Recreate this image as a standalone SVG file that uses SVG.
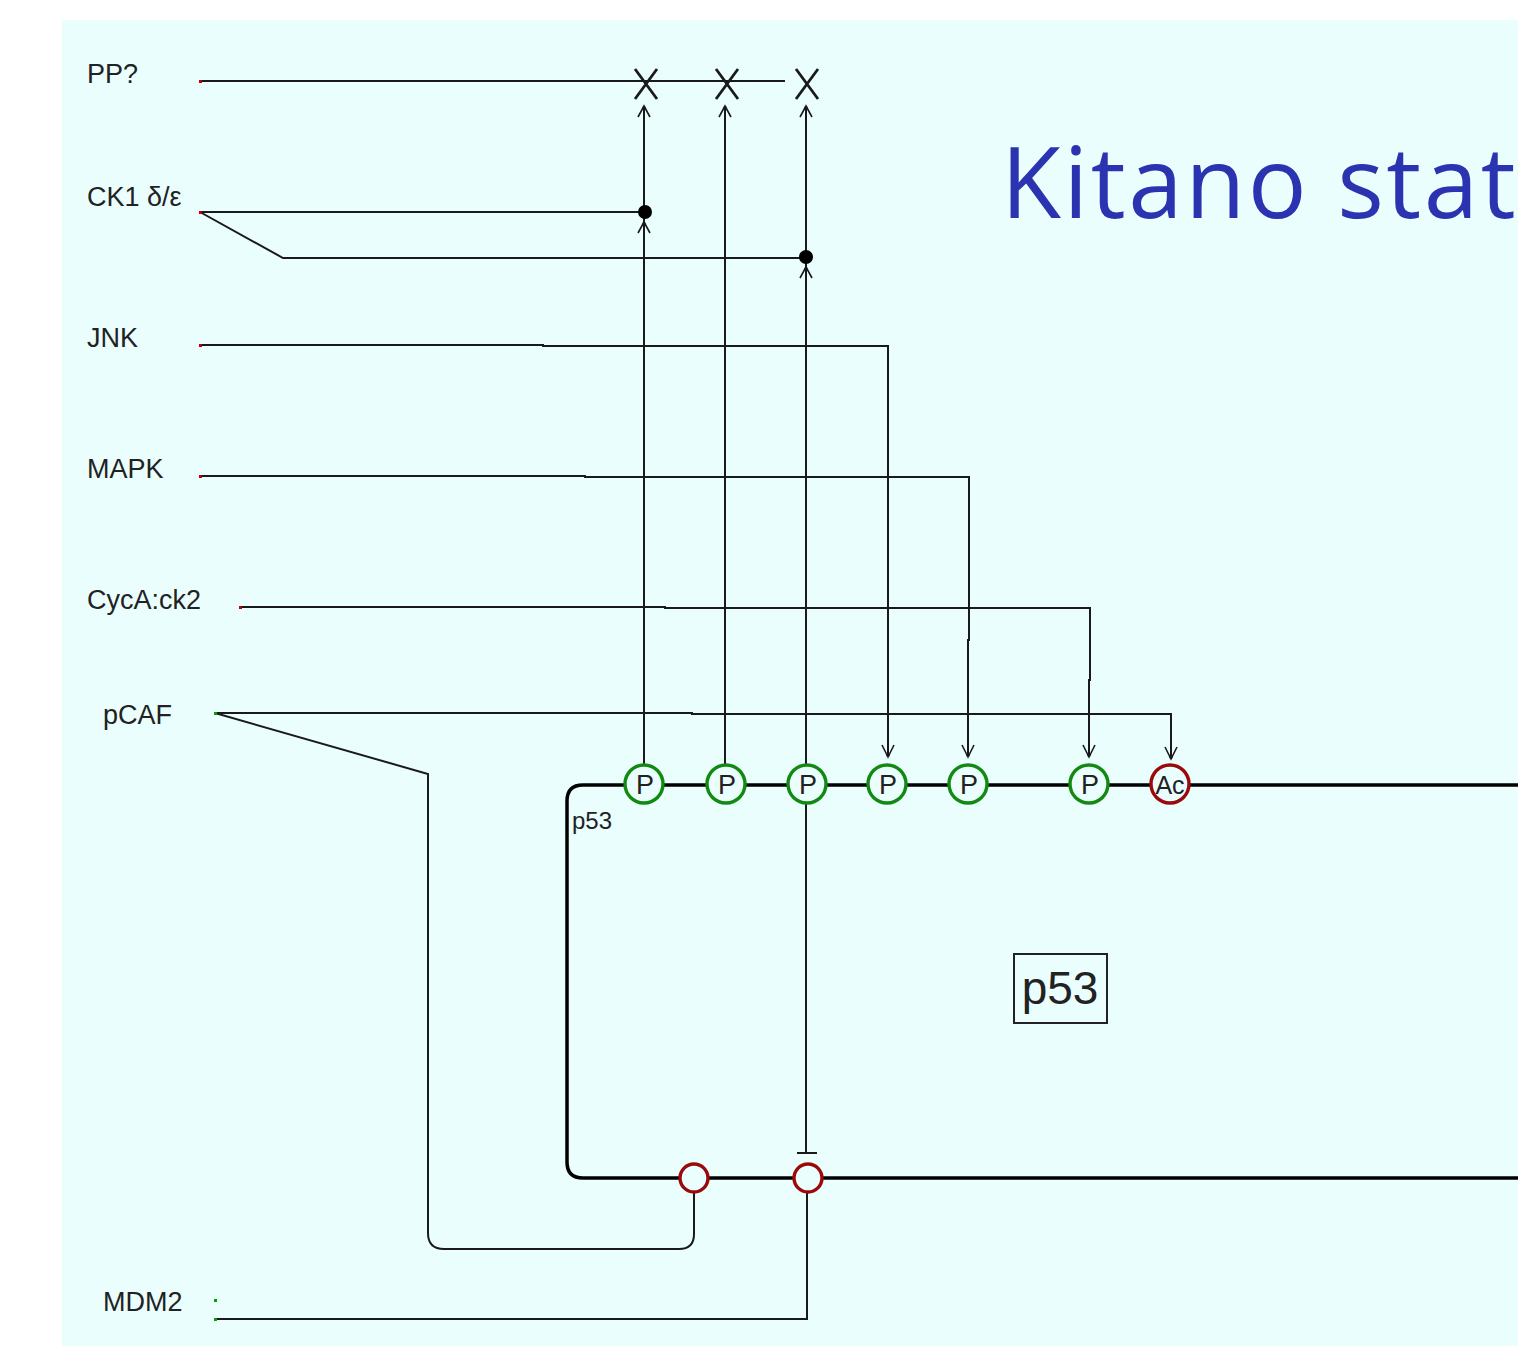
<svg xmlns="http://www.w3.org/2000/svg" xmlns:xlink="http://www.w3.org/1999/xlink" width="1518" height="1348" viewBox="0 0 1518 1348">
<style>
.lbl{font-family:"Liberation Sans",Arial,sans-serif;font-size:27px;fill:#222}
.ln{fill:none;stroke:#1a1a1a;stroke-width:2}
.ah{fill:none;stroke:#1a1a1a;stroke-width:1.6}
.xm{stroke:#1a1a1a;stroke-width:2.8;fill:none}
.pg{fill:#eafefe;stroke:#128a12;stroke-width:3.4}
.pr{fill:#eafefe;stroke:#9a0a0a;stroke-width:3.4}
.ct{font-family:"Liberation Sans",Arial,sans-serif;font-size:27px;fill:#222;text-anchor:middle}
.dr{fill:#c00000}
.dg{fill:#00a000}
</style>
<defs>
<g id="ahUp"><path class="ah" d="M-6,11 L0,0 L6,11 M0,0 V12"/><circle cx="0" cy="2" r="1.8" fill="#1a1a1a"/></g>
<g id="ahDn"><path class="ah" d="M-6,-12 L0,0 L6,-12 M0,0 V-12"/><circle cx="0" cy="-2" r="1.8" fill="#1a1a1a"/></g>
<path id="xmark" class="xm" d="M-11,-15 L11,15 M11,-15 L-11,15"/>
</defs>
<rect x="0" y="0" width="1518" height="1348" fill="#ffffff"/>
<rect x="62" y="20" width="1456" height="1326" fill="#eafefe"/>

<text x="1001" y="218" font-family="'Open Sans',sans-serif" font-size="98" letter-spacing="2.5" fill="#2b33b0">Kitano stat</text>

<g id="p53-complex">
<path d="M1520,785 H583 Q567,785 567,801 V1162 Q567,1178 583,1178 H1520" fill="none" stroke="#000" stroke-width="3.5"/>
<text x="572" y="829" class="lbl" style="font-size:24px">p53</text>
<rect x="1014" y="954" width="93" height="69" fill="none" stroke="#222" stroke-width="2"/>
<text x="1060" y="1004" class="lbl" style="font-size:46px" text-anchor="middle">p53</text>
</g>

<g id="connectors">
<polyline class="ln" points="200,81 785,81"/>
<polyline class="ln" points="200,212 645,212"/>
<polyline class="ln" points="200,212 283,258 806,258"/>
<line class="ln" x1="644" y1="106" x2="644" y2="765"/>
<line class="ln" x1="725" y1="106" x2="725" y2="765"/>
<line class="ln" x1="806" y1="106" x2="806" y2="1153"/>
<polyline class="ln" points="200,345 543,345 543,346 888,346 888,756"/>
<polyline class="ln" points="200,476 585,476 585,477 969,477 969,640 968,640 968,756"/>
<polyline class="ln" points="240,607 665,607 665,608 1090,608 1090,680 1089,680 1089,756"/>
<polyline class="ln" points="215,713 692,713 692,714 1171,714 1171,758"/>
<path class="ln" d="M215,713 L428,774 V1233 Q428,1249 444,1249 H679 Q694,1249 694,1234 V1193"/>
<polyline class="ln" points="215,1319 807,1319 807,1193"/>
<line x1="797" y1="1153" x2="817" y2="1153" stroke="#1a1a1a" stroke-width="2"/>
<circle cx="645" cy="212" r="7" fill="#000"/>
<circle cx="806" cy="257" r="7" fill="#000"/>
<use xlink:href="#ahUp" x="644" y="106"/>
<use xlink:href="#ahUp" x="725" y="106"/>
<use xlink:href="#ahUp" x="806" y="106"/>
<use xlink:href="#ahUp" x="644" y="222"/>
<use xlink:href="#ahUp" x="806" y="267"/>
<use xlink:href="#ahDn" x="888" y="757"/>
<use xlink:href="#ahDn" x="968" y="757"/>
<use xlink:href="#ahDn" x="1089" y="757"/>
<use xlink:href="#ahDn" x="1171" y="759"/>
<use xlink:href="#xmark" x="646" y="84"/>
<use xlink:href="#xmark" x="727" y="84"/>
<use xlink:href="#xmark" x="807" y="84"/>
<rect class="dr" x="199" y="80" width="3" height="3"/>
<rect class="dr" x="199" y="211" width="3" height="3"/>
<rect class="dr" x="199" y="344" width="3" height="3"/>
<rect class="dr" x="199" y="475" width="3" height="3"/>
<rect class="dr" x="239" y="606" width="3" height="3"/>
<rect class="dg" x="214" y="712" width="3" height="3"/>
<rect class="dg" x="214" y="1299" width="3" height="3"/>
<rect class="dg" x="214" y="1318" width="3" height="3"/>
</g>

<g id="node-PP"><text x="87" y="83" class="lbl">PP?</text></g>
<g id="node-CK1"><text x="87" y="206" class="lbl">CK1 δ/ε</text></g>
<g id="node-JNK"><text x="87" y="347" class="lbl">JNK</text></g>
<g id="node-MAPK"><text x="87" y="478" class="lbl">MAPK</text></g>
<g id="node-CycA"><text x="87" y="609" class="lbl">CycA:ck2</text></g>
<g id="node-pCAF"><text x="103" y="724" class="lbl">pCAF</text></g>
<g id="node-MDM2"><text x="103" y="1311" class="lbl">MDM2</text></g>

<g id="site-P1"><circle class="pg" cx="644" cy="784" r="19"/><text class="ct" x="645" y="794">P</text></g>
<g id="site-P2"><circle class="pg" cx="726" cy="784" r="19"/><text class="ct" x="727" y="794">P</text></g>
<g id="site-P3"><circle class="pg" cx="807" cy="784" r="19"/><text class="ct" x="808" y="794">P</text></g>
<g id="site-P4"><circle class="pg" cx="887" cy="784" r="19"/><text class="ct" x="888" y="794">P</text></g>
<g id="site-P5"><circle class="pg" cx="968" cy="784" r="19"/><text class="ct" x="969" y="794">P</text></g>
<g id="site-P6"><circle class="pg" cx="1089" cy="784" r="19"/><text class="ct" x="1090" y="794">P</text></g>
<g id="site-Ac"><circle class="pr" cx="1170" cy="784" r="19"/><text class="ct" x="1170" y="794" style="font-size:25px">Ac</text></g>
<g id="site-B1"><circle class="pr" cx="694" cy="1178" r="14"/></g>
<g id="site-B2"><circle class="pr" cx="808" cy="1178" r="14"/></g>
</svg>
